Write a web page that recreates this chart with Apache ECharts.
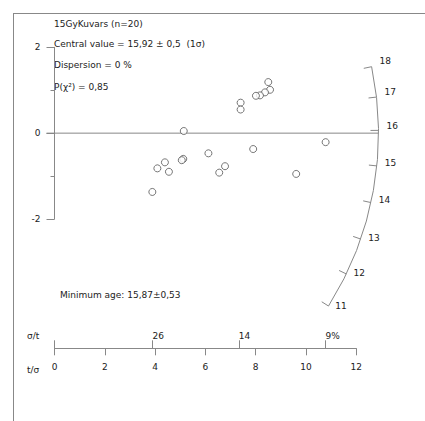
<!DOCTYPE html>
<html>
<head>
<meta charset="utf-8">
<style>html,body{margin:0;padding:0;background:#fff;}#chart{width:425px;height:421px;}</style>
<script src="https://cdn.jsdelivr.net/npm/echarts@6/dist/echarts.min.js"></script>
</head>
<body>
<div id="chart"></div>
<script>
// ---- data ----
const sampleName = '15GyKuvars (n=20)';
const centralValue = 15.92;
const statLines = ['Central value = 15,92 ± 0,5  (1σ)', 'Dispersion = 0 %', 'P(χ²) = 0,85'];
const minimumAge = 'Minimum age: 15,87±0,53';
// precision (t/σ) and standardised estimate of each grain
const xPrecision = [8.50, 8.57, 8.37, 8.17, 8.01, 7.40, 7.40, 5.14, 6.12, 7.90, 5.12, 5.06, 4.39, 4.09, 4.55, 6.78, 6.55, 3.89, 9.61, 10.78];
const yStandard  = [1.19, 1.01, 0.95, 0.88, 0.87, 0.71, 0.55, 0.05, -0.47, -0.37, -0.60, -0.63, -0.68, -0.82, -0.90, -0.77, -0.92, -1.37, -0.95, -0.21];
const arcAges = [11, 12, 13, 14, 15, 16, 17, 18];
const sigmaTickPos = [3.9, 7.33, 10.78];
const sigmaTickLabels = ['26', '14', '9%'];
const yTickLabels = ['-2', '0', '2'];

const FONT = 'DejaVu Sans';
const FS = 9;
const GRAY = '#888';
const TXT = '#222';
const ARC_R = 324;

const points = xPrecision.map((x, i) => [x, yStandard[i]]);

const chart = echarts.init(document.getElementById('chart'), null, {renderer: 'svg'});

function renderArc(params, api) {
  const c = api.coord([0, 0]);
  const px = api.coord([1, 0]);
  const py = api.coord([0, 1]);
  const sx = px[0] - c[0];
  const sy = py[1] - c[1];
  const ang = t => Math.atan2(sy * Math.log(t / centralValue), sx);
  const children = [];
  const a0 = ang(arcAges[arcAges.length - 1]);
  const a1 = ang(arcAges[0]);
  children.push({type: 'arc', shape: {cx: c[0], cy: c[1], r: ARC_R, startAngle: a0, endAngle: a1, clockwise: true},
    style: {stroke: GRAY, fill: null, lineWidth: 1}});
  // central line
  children.push({type: 'line', shape: {x1: c[0] - 8, y1: c[1], x2: c[0] + ARC_R * Math.cos(ang(centralValue)), y2: c[1] + ARC_R * Math.sin(ang(centralValue))},
    style: {stroke: GRAY, lineWidth: 1}});
  arcAges.forEach(t => {
    const a = ang(t);
    const dx = Math.cos(a), dy = Math.sin(a);
    children.push({type: 'line', shape: {x1: c[0] + ARC_R * dx, y1: c[1] + ARC_R * dy, x2: c[0] + (ARC_R - 8) * dx, y2: c[1] + (ARC_R - 8) * dy},
      style: {stroke: GRAY, lineWidth: 1}});
    children.push({type: 'text', x: c[0] + (ARC_R + 8) * dx, y: c[1] + (ARC_R + 8) * dy - 4,
      style: {text: String(t), fill: TXT, font: FS + 'px ' + FONT, textAlign: 'left', textVerticalAlign: 'middle'}});
  });
  return {type: 'group', children};
}

const textStyle = {fill: TXT, font: FS + 'px ' + FONT, textVerticalAlign: 'middle'};

chart.setOption({
  animation: false,
  textStyle: {fontFamily: FONT},
  grid: [
    {left: 54.5, top: 47.3, width: 301.8, height: 171.7},
    {left: 54.5, top: 300, width: 301.8, height: 48.3}
  ],
  xAxis: [
    {gridIndex: 0, type: 'value', min: 0, max: 12, show: false},
    {gridIndex: 1, type: 'value', min: 0, max: 12, interval: 2, position: 'bottom',
      axisLine: {show: true, lineStyle: {color: GRAY}},
      axisTick: {show: true, length: 7, lineStyle: {color: GRAY}},
      axisLabel: {show: true, color: TXT, fontSize: FS, fontFamily: FONT, margin: 14},
      splitLine: {show: false}},
    {gridIndex: 1, type: 'value', min: 0, max: 12, position: 'bottom',
      axisLine: {show: false},
      axisTick: {show: true, inside: true, length: 8, customValues: [0].concat(sigmaTickPos), lineStyle: {color: GRAY}},
      axisLabel: {show: true, inside: true, customValues: sigmaTickPos, align: 'left', margin: 8, color: TXT, fontSize: FS, fontFamily: FONT,
        formatter: v => { const i = sigmaTickPos.findIndex(p => Math.abs(p - v) < 1e-6); return i >= 0 ? sigmaTickLabels[i] : ''; }},
      splitLine: {show: false}}
  ],
  yAxis: [
    {gridIndex: 0, type: 'value', min: -2, max: 2, interval: 2,
      axisLine: {show: true, lineStyle: {color: GRAY}},
      axisTick: {show: true, length: 8, lineStyle: {color: GRAY}},
      minorTick: {show: true, splitNumber: 2, length: 4, lineStyle: {color: GRAY}},
      axisLabel: {color: TXT, fontSize: FS, fontFamily: FONT, margin: 14, formatter: v => yTickLabels[Math.round((v + 2) / 2)]},
      splitLine: {show: false}, minorSplitLine: {show: false}},
    {gridIndex: 1, type: 'value', show: false, min: 0, max: 1}
  ],
  series: [
    {type: 'custom', xAxisIndex: 0, yAxisIndex: 0, clip: false, silent: true, renderItem: renderArc, data: [[0, 0]]},
    {type: 'scatter', xAxisIndex: 0, yAxisIndex: 0, clip: false, symbol: 'circle', symbolSize: 7,
      itemStyle: {color: '#fff', borderColor: '#555', borderWidth: 1}, data: points}
  ],
  graphic: [
    {type: 'line', shape: {x1: 13.5, y1: 13, x2: 13.5, y2: 421}, style: {stroke: GRAY, lineWidth: 1}},
    {type: 'line', shape: {x1: 13, y1: 13.5, x2: 425, y2: 13.5}, style: {stroke: GRAY, lineWidth: 1}},
    {type: 'text', left: 54, top: 19, style: Object.assign({text: sampleName}, textStyle)},
    {type: 'text', left: 54, top: 39, style: Object.assign({text: statLines[0]}, textStyle)},
    {type: 'text', left: 54, top: 60, style: Object.assign({text: statLines[1]}, textStyle)},
    {type: 'text', left: 54, top: 82, style: Object.assign({text: statLines[2]}, textStyle)},
    {type: 'text', left: 60, top: 290, style: Object.assign({text: minimumAge}, textStyle)},
    {type: 'text', left: 27, top: 331, style: Object.assign({text: 'σ/t'}, textStyle)},
    {type: 'text', left: 27, top: 365, style: Object.assign({text: 't/σ'}, textStyle)}
  ]
});
</script>
</body>
</html>
